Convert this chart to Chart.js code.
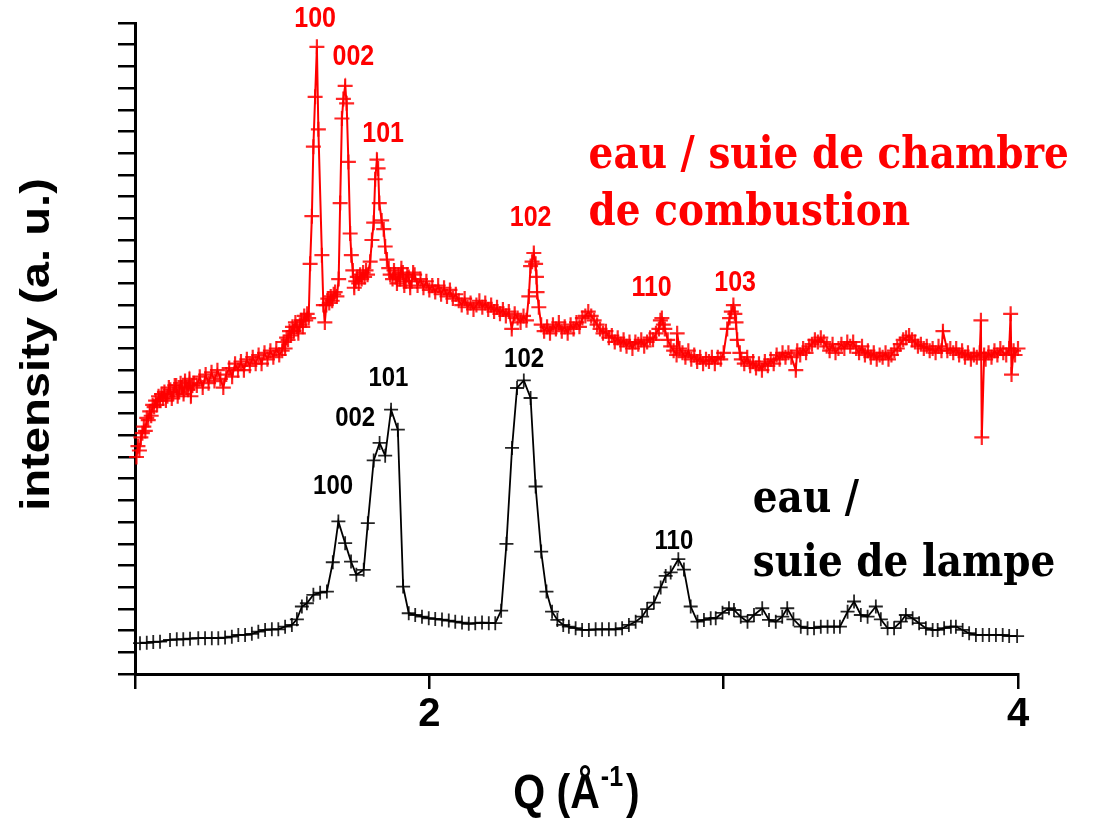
<!DOCTYPE html>
<html>
<head>
<meta charset="utf-8">
<script src="https://cdn.jsdelivr.net/npm/chart.js@4.4.1/dist/chart.umd.min.js"></script>
<style>
  html, body { margin: 0; padding: 0; background: #fff; }
  #chart { display: block; }
</style>
</head>
<body>
<canvas id="chart" width="1103" height="819"></canvas>
<script>
// eau / suie de lampe (black curve)
const lampQ = [
  1.017, 1.040, 1.062, 1.085, 1.119, 1.142, 1.164, 1.187, 1.215, 1.238,
  1.261, 1.283, 1.306, 1.329, 1.351, 1.374, 1.397, 1.419, 1.442, 1.465,
  1.487, 1.510, 1.533, 1.550, 1.567, 1.584, 1.606, 1.629, 1.652, 1.672,
  1.691, 1.714, 1.734, 1.752, 1.777, 1.791, 1.811, 1.831, 1.850, 1.870,
  1.893, 1.911, 1.930, 1.952, 1.975, 1.998, 2.020, 2.043, 2.066, 2.088,
  2.111, 2.134, 2.156, 2.179, 2.202, 2.224, 2.244, 2.262, 2.281, 2.298,
  2.321, 2.344, 2.361, 2.380, 2.398, 2.417, 2.435, 2.455, 2.474, 2.497,
  2.519, 2.542, 2.565, 2.587, 2.610, 2.633, 2.655, 2.678, 2.701, 2.723,
  2.740, 2.763, 2.786, 2.803, 2.820, 2.846, 2.865, 2.888, 2.911, 2.933,
  2.956, 2.973, 2.996, 3.018, 3.035, 3.058, 3.081, 3.103, 3.131, 3.154,
  3.177, 3.199, 3.216, 3.237, 3.262, 3.285, 3.307, 3.330, 3.353, 3.375,
  3.395, 3.421, 3.443, 3.466, 3.489, 3.517, 3.534, 3.557, 3.579, 3.602,
  3.619, 3.642, 3.664, 3.687, 3.710, 3.727, 3.749, 3.772, 3.789, 3.812,
  3.834, 3.857, 3.880, 3.902, 3.925, 3.948, 3.970, 3.997
]
const lampI = [
  1.42, 1.44, 1.48, 1.49, 1.57, 1.60, 1.60, 1.63, 1.65, 1.65,
  1.65, 1.65, 1.68, 1.72, 1.80, 1.80, 1.85, 1.95, 2.03, 2.06,
  2.06, 2.18, 2.26, 2.52, 3.11, 3.26, 3.65, 3.75, 3.80, 5.15,
  7.03, 6.03, 5.18, 4.57, 4.80, 6.95, 9.84, 10.65, 10.06, 12.18,
  11.26, 4.03, 2.80, 2.72, 2.64, 2.57, 2.54, 2.51, 2.46, 2.41,
  2.37, 2.31, 2.34, 2.37, 2.34, 2.34, 2.92, 6.00, 10.42, 13.18,
  13.53, 12.72, 8.64, 5.64, 3.80, 2.87, 2.49, 2.26, 2.18, 2.11,
  2.03, 2.03, 2.06, 2.06, 2.06, 2.06, 2.11, 2.26, 2.41, 2.64,
  2.99, 3.29, 3.99, 4.52, 4.68, 5.29, 4.81, 3.11, 2.41, 2.49,
  2.57, 2.57, 2.82, 3.03, 2.95, 2.64, 2.41, 2.72, 3.03, 2.49,
  2.41, 2.64, 3.03, 2.52, 2.18, 2.11, 2.11, 2.18, 2.18, 2.18,
  2.18, 2.87, 3.34, 2.72, 2.64, 3.11, 2.52, 2.11, 2.11, 2.41,
  2.72, 2.57, 2.34, 2.11, 2.03, 2.03, 2.11, 2.18, 2.18, 2.03,
  1.88, 1.80, 1.80, 1.80, 1.80, 1.80, 1.75, 1.75
]

// eau / suie de chambre de combustion (red curve)
const chamberQ = [
  1.005, 1.010, 1.015, 1.020, 1.025, 1.030, 1.035, 1.040, 1.045, 1.050,
  1.055, 1.060, 1.065, 1.070, 1.075, 1.080, 1.085, 1.090, 1.095, 1.100,
  1.105, 1.110, 1.115, 1.120, 1.125, 1.130, 1.135, 1.140, 1.145, 1.150,
  1.155, 1.160, 1.165, 1.170, 1.175, 1.180, 1.185, 1.190, 1.195, 1.200,
  1.210, 1.220, 1.230, 1.240, 1.250, 1.260, 1.270, 1.280, 1.290, 1.300,
  1.310, 1.320, 1.330, 1.340, 1.350, 1.360, 1.370, 1.380, 1.390, 1.400,
  1.410, 1.420, 1.430, 1.440, 1.450, 1.460, 1.470, 1.480, 1.490, 1.500,
  1.505, 1.510, 1.515, 1.520, 1.525, 1.530, 1.535, 1.540, 1.545, 1.550,
  1.555, 1.560, 1.565, 1.570, 1.575, 1.580, 1.585, 1.590, 1.595,
  1.601, 1.606, 1.612, 1.618, 1.623, 1.635, 1.640, 1.645, 1.650, 1.655,
  1.660, 1.665, 1.670, 1.675, 1.680, 1.686, 1.692, 1.697, 1.703, 1.708,
  1.714, 1.719, 1.725, 1.731, 1.735, 1.740, 1.745, 1.750, 1.755, 1.760,
  1.765, 1.770, 1.775, 1.780, 1.785, 1.790, 1.799, 1.805, 1.811, 1.816,
  1.822, 1.826, 1.830, 1.838, 1.845, 1.850, 1.856, 1.862, 1.867, 1.875,
  1.880, 1.885, 1.890, 1.895, 1.900, 1.905, 1.910, 1.915, 1.920, 1.925,
  1.930, 1.935, 1.940, 1.945, 1.950, 1.960, 1.970, 1.980, 1.990, 2.000,
  2.010, 2.020, 2.030, 2.040, 2.050, 2.060, 2.070, 2.080, 2.090, 2.100,
  2.110, 2.120, 2.130, 2.140, 2.150, 2.160, 2.170, 2.180, 2.190, 2.200,
  2.210, 2.220, 2.230, 2.240, 2.250, 2.260, 2.270, 2.280, 2.290, 2.300,
  2.310, 2.320, 2.330, 2.338, 2.344, 2.349, 2.355, 2.361, 2.364, 2.366,
  2.372, 2.380, 2.390, 2.400, 2.410, 2.420, 2.430, 2.440, 2.450, 2.460,
  2.470, 2.480, 2.490, 2.500, 2.510, 2.520, 2.530, 2.540, 2.550, 2.560,
  2.570, 2.580, 2.590, 2.600, 2.610, 2.620, 2.630, 2.640, 2.650, 2.660,
  2.670, 2.680, 2.690, 2.700, 2.710, 2.720, 2.730, 2.740, 2.750, 2.760,
  2.770, 2.780, 2.785, 2.790, 2.795, 2.800, 2.810, 2.820, 2.830, 2.840,
  2.842, 2.850, 2.860, 2.870, 2.880, 2.890, 2.900, 2.910, 2.920, 2.930,
  2.940, 2.950, 2.960, 2.970, 2.980, 2.990, 3.000, 3.012, 3.020, 3.026,
  3.033, 3.038, 3.042, 3.046, 3.055, 3.060, 3.070, 3.080, 3.090, 3.100,
  3.110, 3.120, 3.130, 3.140, 3.150, 3.160, 3.170, 3.180, 3.190, 3.200,
  3.210, 3.220, 3.230, 3.245, 3.250, 3.260, 3.270, 3.280, 3.290, 3.300,
  3.310, 3.320, 3.330, 3.340, 3.350, 3.360, 3.370, 3.380, 3.390, 3.400,
  3.410, 3.420, 3.430, 3.440, 3.450, 3.460, 3.470, 3.480, 3.490, 3.500,
  3.510, 3.520, 3.530, 3.540, 3.550, 3.560, 3.570, 3.580, 3.590, 3.600,
  3.610, 3.620, 3.630, 3.640, 3.650, 3.660, 3.670, 3.680, 3.690, 3.700,
  3.710, 3.720, 3.730, 3.740, 3.745, 3.760, 3.770, 3.780, 3.790, 3.800,
  3.810, 3.820, 3.830, 3.840, 3.850, 3.860, 3.870, 3.874, 3.877, 3.885,
  3.890, 3.900, 3.910, 3.920, 3.930, 3.940, 3.950, 3.960, 3.970, 3.975,
  3.978, 3.985, 3.990, 4.000
]
const chamberI = [
  10.0, 10.5, 10.3, 10.9, 11.1, 11.4, 11.2, 11.8, 11.7, 12.1,
  11.9, 12.4, 12.3, 12.6, 12.4, 12.8, 12.6, 12.9, 12.7, 13.0,
  12.6, 12.8, 13.2, 13.1, 12.7, 12.9, 13.3, 13.3, 12.8, 13.0,
  13.4, 13.2, 12.9, 13.5, 13.2, 13.1, 13.6, 12.8, 13.3, 13.4,
  13.3, 13.7, 13.2, 13.8, 13.4, 13.9, 13.5, 14.0, 13.6, 13.2,
  13.8, 14.1, 13.7, 14.3, 14.0, 14.4, 14.0, 14.5, 14.2, 14.6,
  14.3, 14.7, 14.3, 14.8, 14.5, 14.9, 14.6, 15.0, 14.7, 14.9,
  15.3, 15.0, 15.5, 15.4, 15.8, 15.6, 16.0, 15.8, 16.2, 16.0,
  15.7, 16.1, 16.3, 16.0, 16.5, 16.3, 16.6, 16.4, 18.9,
  21.1, 24.3, 26.6, 28.9, 25.1, 19.3, 17.0, 16.2, 17.0, 17.3,
  17.1, 17.4, 17.2, 17.5, 17.6, 17.4, 18.2, 21.7, 25.6, 26.5,
  27.1, 26.3, 23.6, 20.3, 19.3, 18.6, 17.8, 18.1, 18.3, 18.0,
  18.4, 18.2, 18.5, 18.3, 18.6, 18.4, 19.0, 20.0, 20.8, 22.8,
  23.7, 23.3, 21.7, 20.9, 20.5, 19.7, 19.1, 18.7, 18.4, 18.2,
  18.6, 18.3, 18.0, 18.4, 18.2, 18.7, 18.5, 17.9, 18.1, 18.4,
  18.3, 17.8, 18.1, 18.5, 18.4, 17.9, 18.2, 17.8, 18.1, 17.7,
  17.9, 17.6, 17.9, 17.5, 17.8, 17.4, 17.7, 17.3, 17.5, 17.2,
  17.0, 17.3, 16.9, 17.1, 16.8, 17.0, 17.2, 16.9, 17.1, 16.8,
  17.0, 16.7, 16.9, 16.6, 16.8, 16.5, 16.7, 15.9, 16.6, 16.4,
  16.2, 16.5, 16.3, 17.4, 18.8, 19.0, 19.4, 18.9, 18.3, 17.6,
  16.9, 16.1, 15.8, 16.0, 15.7, 16.1, 15.9, 16.2, 15.8, 16.0,
  15.7, 16.1, 15.9, 16.2, 16.0, 16.4, 16.5, 16.7, 16.5, 16.3,
  16.1, 15.9, 15.7, 15.8, 15.5, 15.6, 15.3, 15.5, 15.2, 15.4,
  15.1, 15.3, 15.0, 15.3, 15.2, 15.4, 15.1, 15.3, 15.5, 15.4,
  15.7, 15.9, 16.3, 16.4, 16.1, 15.9, 15.4, 15.1, 14.9, 14.7,
  15.7, 15.0, 14.8, 14.6, 14.9, 14.5, 14.7, 14.4, 14.6, 14.3,
  14.5, 14.4, 14.6, 14.3, 14.6, 14.5, 14.8, 15.9, 16.4, 16.7,
  17.0, 16.6, 16.2, 15.4, 14.8, 14.5, 14.3, 14.6, 14.2, 14.4,
  14.1, 14.3, 14.0, 14.4, 14.2, 14.5, 14.3, 14.7, 14.5, 14.8,
  14.6, 14.8, 14.6, 14.0, 14.9, 14.7, 15.0, 14.8, 15.1, 15.2,
  15.4, 15.3, 15.5, 15.3, 15.1, 14.9, 15.2, 14.8, 15.0, 15.2,
  15.0, 15.3, 15.1, 15.3, 15.0, 14.8, 15.1, 14.7, 14.9, 14.6,
  14.8, 14.5, 14.7, 14.6, 14.8, 14.5, 14.7, 14.9, 15.0, 15.2,
  15.4, 15.5, 15.6, 15.4, 15.3, 15.1, 15.2, 15.0, 15.1, 14.9,
  15.0, 14.8, 15.1, 14.9, 15.8, 14.9, 15.0, 14.8, 15.0, 14.7,
  14.9, 14.6, 14.8, 14.5, 14.7, 14.6, 14.8, 16.3, 10.9, 14.7,
  14.5, 14.8, 14.6, 14.9, 14.7, 15.0, 14.8, 14.7, 15.0, 16.6,
  13.8, 14.9, 14.7, 15.0
]

const xTickLabels = [2, 4]

// peak indexing labels, placed in data coordinates (Q, intensity)
const chamberPeakText = ['100', '002', '101', '102', '110', '103']
const chamberPeakQ = [1.612, 1.742, 1.843, 2.344, 2.755, 3.039]
const chamberPeakI = [30.2, 28.45, 24.9, 21.0, 17.8, 18.0]
const lampPeakText = ['100', '002', '101', '102', '110']
const lampPeakQ = [1.673, 1.748, 1.861, 2.322, 2.831]
const lampPeakI = [8.66, 11.77, 13.61, 14.49, 6.09]

const RED = '#ff0000'
const STRETCH = 1.15  // the source picture is a bit taller than wide

function drawText(ctx, text, x, y, rotate) {
  ctx.save()
  ctx.translate(x, y)
  ctx.scale(1, STRETCH)
  if (rotate) ctx.rotate(rotate)
  ctx.fillText(text, 0, 0)
  ctx.restore()
}

const annotations = {
  id: 'annotations',
  afterDatasetsDraw(chart) {
    const ctx = chart.ctx
    const xs = chart.scales.x
    const ys = chart.scales.y
    ctx.save()
    ctx.textAlign = 'center'
    ctx.textBaseline = 'middle'

    ctx.font = 'bold 25px "Liberation Sans"'
    ctx.fillStyle = RED
    chamberPeakText.forEach((t, i) => {
      drawText(ctx, t, xs.getPixelForValue(chamberPeakQ[i]), ys.getPixelForValue(chamberPeakI[i]))
    })
    ctx.font = 'bold 24px "Liberation Sans"'
    ctx.fillStyle = '#000'
    lampPeakText.forEach((t, i) => {
      drawText(ctx, t, xs.getPixelForValue(lampPeakQ[i]), ys.getPixelForValue(lampPeakI[i]))
    })

    // series names
    ctx.textAlign = 'left'
    ctx.textBaseline = 'alphabetic'
    ctx.font = 'bold 39px "DejaVu Serif"'
    ctx.fillStyle = RED
    drawText(ctx, 'eau / suie de chambre', xs.getPixelForValue(2.541), ys.getPixelForValue(23.3))
    drawText(ctx, 'de combustion', xs.getPixelForValue(2.541), ys.getPixelForValue(20.67))
    ctx.fillStyle = '#000'
    drawText(ctx, 'eau /', xs.getPixelForValue(3.099), ys.getPixelForValue(7.48))
    drawText(ctx, 'suie de lampe', xs.getPixelForValue(3.099), ys.getPixelForValue(4.52))

    // axis titles
    ctx.font = 'bold 41px "Liberation Sans"'
    ctx.textAlign = 'center'
    drawText(ctx, 'intensity (a. u.)', 49, (ys.top + ys.bottom) / 2 - 4, -Math.PI / 2)

    const big = 'bold 41px "Liberation Sans"'
    const small = 'bold 25px "Liberation Sans"'
    ctx.textAlign = 'left'
    ctx.font = big
    const w1 = ctx.measureText('Q (Å').width
    const w3 = ctx.measureText(')').width
    ctx.font = small
    const w2 = ctx.measureText('-1').width + 4
    let x0 = (xs.left + xs.right) / 2 - (w1 + w2 + w3) / 2
    const base = 808
    ctx.font = big
    drawText(ctx, 'Q (Å', x0, base)
    ctx.font = small
    drawText(ctx, '-1', x0 + w1 + 1, base - 22)
    ctx.font = big
    drawText(ctx, ')', x0 + w1 + w2, base)
    ctx.restore()
  }
}

Chart.defaults.font.family = '"Liberation Sans", Arial, sans-serif'

new Chart(document.getElementById('chart'), {
  type: 'scatter',
  data: {
    datasets: [
      {
        label: 'eau / suie de chambre de combustion',
        data: chamberQ.map((q, i) => ({ x: q, y: chamberI[i] })),
        showLine: true,
        borderColor: RED,
        borderWidth: 2,
        backgroundColor: 'transparent',
        pointStyle: 'cross',
        pointRadius: 7.5,
        pointBorderWidth: 2.2,
        pointBorderColor: 'rgba(255,0,0,0.85)',
        clip: false
      },
      {
        label: 'eau / suie de lampe',
        data: lampQ.map((q, i) => ({ x: q, y: lampI[i] })),
        showLine: true,
        borderColor: '#000',
        borderWidth: 1.8,
        backgroundColor: 'transparent',
        pointStyle: 'cross',
        pointRadius: 7,
        pointBorderWidth: 1.8,
        pointBorderColor: 'rgba(0,0,0,0.85)',
        clip: false
      }
    ]
  },
  options: {
    responsive: false,
    animation: false,
    devicePixelRatio: 1,
    layout: { autoPadding: false, padding: { left: 0, top: 23, right: 85, bottom: 0 } },
    plugins: { legend: { display: false }, tooltip: { enabled: false } },
    scales: {
      x: {
        type: 'linear',
        min: 1,
        max: 4,
        ticks: {
          stepSize: 1,
          autoSkip: false,
          maxRotation: 0,
          padding: 2,
          color: '#000',
          font: { size: 40, weight: 'bold' },
          callback: (v) => xTickLabels.includes(v) ? String(v) : ''
        },
        grid: { drawOnChartArea: false, tickLength: 15, color: '#000', lineWidth: 2.5 },
        border: { color: '#000', width: 3 },
        afterFit(scale) { scale.height = 145 }
      },
      y: {
        type: 'linear',
        min: 0,
        max: 30,
        ticks: { stepSize: 1, display: false },
        grid: { drawOnChartArea: false, tickLength: 17, color: '#000', lineWidth: 2.5 },
        border: { color: '#000', width: 3 },
        afterFit(scale) { scale.width = 135 }
      }
    }
  },
  plugins: [annotations]
})
</script>
</body>
</html>
